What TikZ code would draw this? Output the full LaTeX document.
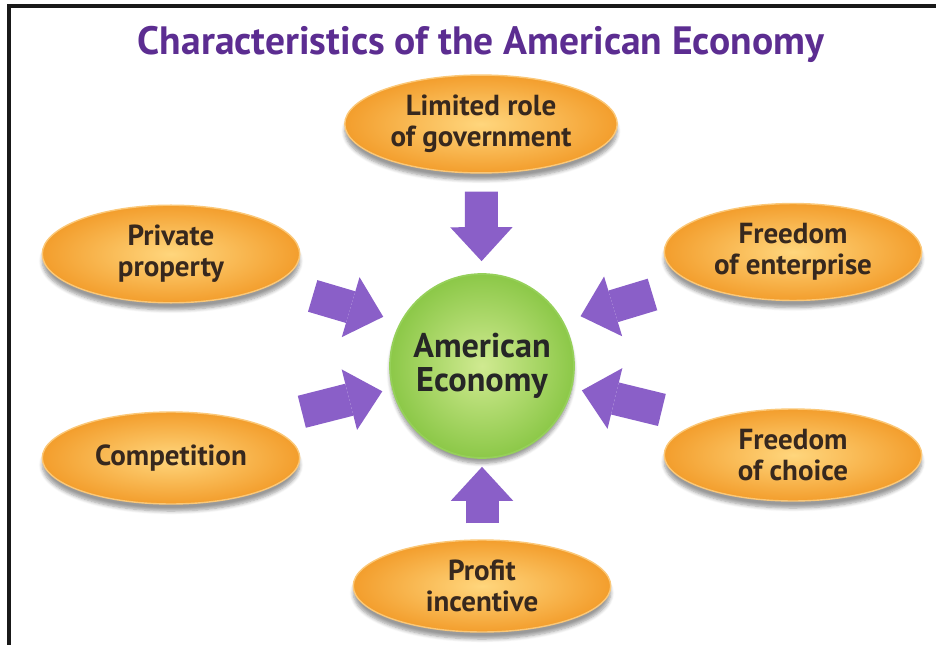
\documentclass[tikz,border=0pt]{standalone}
\usepackage{fontspec}
\setmainfont{PT Sans}
\usetikzlibrary{arrows.meta, shapes.geometric, shadows.blur}
\definecolor{title-purple}{RGB}{92,45,145}
\definecolor{trait-light}{RGB}{255,214,125}
\definecolor{trait-dark}{RGB}{243,158,45}
\definecolor{trait-rim}{RGB}{251,200,120}
\definecolor{trait-text}{RGB}{55,40,30}
\definecolor{econ-light}{RGB}{208,234,145}
\definecolor{econ-dark}{RGB}{140,200,72}
\definecolor{econ-rim}{RGB}{150,208,90}
\definecolor{arrow-purple}{RGB}{138,95,200}

\begin{document}
\begin{tikzpicture}[
  x=0.02cm, y=-0.02cm,
  every node/.style = {align=center},
  % Box styles
  titlebox/.style  = {text=title-purple, font=\bfseries\fontsize{22.5}{24}\selectfont},
  traitbox/.style  = {ellipse, draw=trait-rim, line width=0.8pt,
                      inner color=trait-light, outer color=trait-dark,
                      minimum width=5.15cm, minimum height=1.84cm, text=trait-text,
                      font=\bfseries\fontsize{16.5}{17.5}\selectfont,
                      blur shadow={shadow blur steps=6, shadow xshift=0pt, shadow yshift=-4pt}},
  econbox/.style   = {circle, draw=econ-rim, line width=1pt,
                      inner color=econ-light, outer color=econ-dark,
                      minimum size=3.68cm, text=black!85,
                      font=\bfseries\fontsize{19.5}{19.5}\selectfont,
                      blur shadow={shadow blur steps=6, shadow xshift=0pt, shadow yshift=-3pt}},
  % Arrow styles
  pushlink/.style  = {arrow-purple, line width=0.66cm,
                      -{Triangle[width=1.25cm, length=0.68cm, line width=0pt]}},
  frameline/.style = {line width=1.8pt, black!90},
]

\useasboundingbox (0,0) rectangle (936,645);
\draw[frameline] (9,645) -- (9,6) -- (936,6);

% ── Nodes ──────────────────────────────────────────────────────────────────────
\node[titlebox] (title) at (481,44) {Characteristics of the American Economy};

\node[econbox] (econ) at (482,366) {American\\Economy};

\node[traitbox] (gov)    at (481,124) {Limited role\\of government};
\node[traitbox] (prop)   at (171,254) {Private\\property};
\node[traitbox] (ent)    at (793,252) {Freedom\\of enterprise};
\node[traitbox] (comp)   at (171,458) {Competition};
\node[traitbox] (choice) at (793,455) {Freedom\\of choice};
\node[traitbox] (profit) at (482,586) {Profit\\incentive};

% ── Arrows ─────────────────────────────────────────────────────────────────────
\draw[pushlink, shorten <=0.36cm, shorten >=0.24cm] (gov)    -- (econ);
\draw[pushlink, shorten <=0.32cm, shorten >=0.16cm] (profit) -- (econ);

% upper pair aims a little above the centre of the circle
\draw[pushlink, shorten <=0.82cm, shorten >=2.06cm] (prop) -- ([yshift=0.4cm]econ.center);
\draw[pushlink, shorten <=0.82cm, shorten >=2.06cm] (ent)  -- ([yshift=0.4cm]econ.center);

% lower pair starts a little above the centre of its ellipse
\draw[pushlink, shorten <=2.7cm, shorten >=0.2cm] ([yshift=0.26cm]comp.center)   -- (econ);
\draw[pushlink, shorten <=2.7cm, shorten >=0.2cm] ([yshift=0.26cm]choice.center) -- (econ);

\end{tikzpicture}
\end{document}
